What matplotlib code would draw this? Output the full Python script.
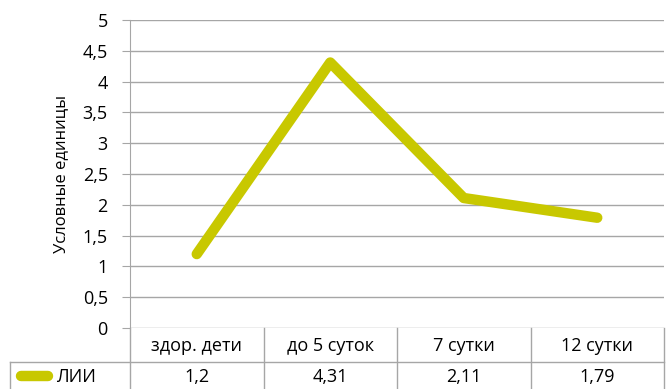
import matplotlib.pyplot as plt
from matplotlib.lines import Line2D

plt.rcParams['font.family'] = ['Open Sans', 'DejaVu Sans']

categories = ['здор. дети', 'до 5 суток', '7 сутки', '12 сутки']
values = [1.2, 4.31, 2.11, 1.79]
series_name = 'ЛИИ'
y_ticks = [0, 0.5, 1, 1.5, 2, 2.5, 3, 3.5, 4, 4.5, 5]

line_color = '#c8c800'
grid_color = '#a6a6a6'
fs = 13

fig = plt.figure(figsize=(6.68, 3.89), dpi=100)
W, H = 668, 389
ax = fig.add_axes([130 / W, (H - 328) / H, (664 - 130) / W, (328 - 20) / H])

x = list(range(len(categories)))
ax.plot(x, values, color=line_color, lw=7.5, solid_joinstyle='round',
        solid_capstyle='round', zorder=3)

ax.set_xlim(-0.5, len(categories) - 0.5)
ax.set_ylim(0, 5)
ax.set_yticks(y_ticks)
ax.set_yticklabels([('%g' % v).replace('.', ',') for v in y_ticks], fontsize=fs)
ax.set_xticks([])
ax.yaxis.grid(True, color=grid_color, lw=1)
ax.set_axisbelow(True)
for s in ['top', 'right', 'bottom']:
    ax.spines[s].set_visible(False)
ax.spines['left'].set_color(grid_color)
ax.tick_params(axis='y', length=6, color=grid_color, pad=10)
ax.set_ylabel('Условные единицы', fontsize=12, labelpad=10)

# data table under the axis
def figline(x0, y0, x1, y1):
    fig.add_artist(Line2D([x0 / W, x1 / W], [1 - y0 / H, 1 - y1 / H],
                          color=grid_color, lw=1))

col_edges = [130, 263.5, 397, 530.5, 664]
for xe in col_edges:
    figline(xe, 328, xe, 389)
figline(10, 362, 664, 362)
figline(10, 362, 10, 389)

for i, cat in enumerate(categories):
    xc = (col_edges[i] + col_edges[i + 1]) / 2
    fig.text(xc / W, 1 - 346 / H, cat, ha='center', va='center', fontsize=fs)
    fig.text(xc / W, 1 - 377 / H, ('%g' % values[i]).replace('.', ','),
             ha='center', va='center', fontsize=fs)

fig.add_artist(Line2D([21 / W, 48 / W], [1 - 376 / H, 1 - 376 / H],
                      color=line_color, lw=7.5, solid_capstyle='round'))
fig.text(56 / W, 1 - 377 / H, series_name, ha='left', va='center', fontsize=fs)

fig.savefig('out.png', dpi=100)
